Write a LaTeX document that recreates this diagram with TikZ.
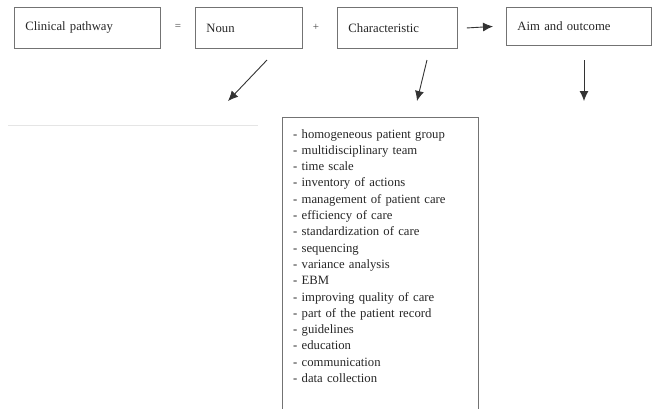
\documentclass[tikz,border=0pt]{standalone}
\usepackage{fontspec}
\setmainfont{Liberation Serif}
\usetikzlibrary{arrows.meta,calc}

\tikzset{
  termbox/.style={draw=black!55, line width=0.9pt, anchor=north west,
    minimum height=41pt, inner xsep=11pt, inner ysep=0pt, align=left,
    font=\fontsize{12.7}{15}\selectfont, text=black!85},
  listtext/.style={anchor=north west, inner xsep=11pt, inner ysep=12pt,
    align=left, text width=174pt,
    font=\fontsize{12.7}{16.3}\selectfont, text=black!85},
  frame/.style={draw=black!55, line width=0.9pt},
  opsign/.style={font=\fontsize{11}{12}\selectfont, text=black!75, inner sep=0pt},
  flow/.style={draw=black!80, line width=0.9pt,
    -{Latex[length=10pt,width=9pt]}}
}

\begin{document}
\begin{tikzpicture}[x=1pt, y=-1pt]
  \useasboundingbox (0,0) rectangle (652,408);
  \clip (0,0) rectangle (652,408);

  % top row: definition as a sum of parts
  \node[termbox, minimum width=146pt, text width=124pt] (pathway) at (14,7) {Clinical pathway};
  \node[opsign] (eq) at (178,27) {=};
  \node[termbox, minimum width=107pt, text width=85pt] (noun) at (195,7) {Noun};
  \node[opsign] (plus) at (316,27) {+};
  \node[termbox, minimum width=120pt, text width=98pt] (charac) at (337,7) {Characteristic};
  \node[termbox, minimum width=145pt, minimum height=38pt, text width=123pt] (aim) at (506,7) {Aim and outcome};

  \draw[flow] ($(charac.east)+(9,0)$) -- ($(aim.west)+(-13,0)$);

  % downward pointers
  \coordinate (nounA) at (267,60);
  \coordinate (nounB) at (228,101);
  \coordinate (charA) at (427,60);
  \coordinate (charB) at (417,101);
  \coordinate (aimA) at (584,60);
  \coordinate (aimB) at (584,101);
  \draw[flow] (nounA) -- (nounB);
  \draw[flow] (charA) -- (charB);
  \draw[flow] (aimA) -- (aimB);

  % faint rule on the left
  \draw[black!10, line width=0.8pt] (8,125) -- (258,125);

  % list of characteristics, framed by a box running past the bottom edge
  \node[listtext] (list) at (282,117) {%
    - homogeneous patient group\\
    - multidisciplinary team\\
    - time scale\\
    - inventory of actions\\
    - management of patient care\\
    - efficiency of care\\
    - standardization of care\\
    - sequencing\\
    - variance analysis\\
    - EBM\\
    - improving quality of care\\
    - part of the patient record\\
    - guidelines\\
    - education\\
    - communication\\
    - data collection};
  \draw[frame] (list.north west) rectangle ($(list.north east)+(0,310)$);
\end{tikzpicture}
\end{document}
